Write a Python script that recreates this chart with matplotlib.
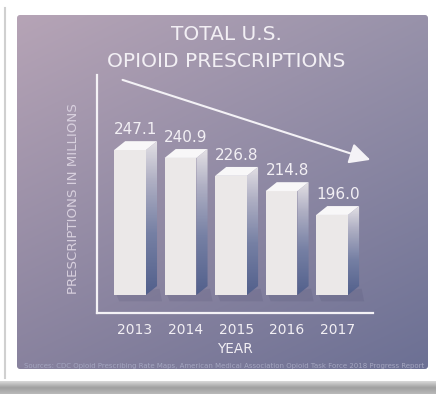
import numpy as np
import matplotlib
matplotlib.use('Agg')
import matplotlib.pyplot as plt
from matplotlib.patches import Polygon, Rectangle, FancyBboxPatch
from matplotlib.colors import LinearSegmentedColormap

# data
years = ['2013', '2014', '2015', '2016', '2017']
rx = [247.1, 240.9, 226.8, 214.8, 196.0]
title = 'TOTAL U.S.\nOPIOID PRESCRIPTIONS'
source = ('Sources: CDC Opioid Prescribing Rate Maps, American Medical '
          'Association Opioid Task Force 2018 Progress Report')

W, H = 436, 394
fig = plt.figure(figsize=(W / 100, H / 100), dpi=100)

# background / frame in pixel coords
bg = fig.add_axes([0, 0, 1, 1])
bg.set_xlim(0, W)
bg.set_ylim(H, 0)
bg.axis('off')
bg.add_patch(Rectangle((0, 0), W, H, color='white', zorder=0))
# bottom shadow band
shade = np.linspace(0, 1, 20).reshape(-1, 1)
bg.imshow(shade, extent=(0, W, 394, 381), aspect='auto', zorder=1,
          cmap=LinearSegmentedColormap.from_list('sh', ['#d8d8d8', '#a0a0a0', '#b8b8b8']))
bg.plot([5, 5], [8, 378], color='#d0d0d0', lw=1.5, zorder=1)

# panel gradient (bilinear between corner colours)
tl = np.array([0xb6, 0xa4, 0xb6]) / 255
tr = np.array([0x98, 0x92, 0xaa]) / 255
bl = np.array([0x88, 0x82, 0x9e]) / 255
br = np.array([0x6c, 0x70, 0x94]) / 255
u = np.linspace(0, 1, 200)[None, :, None]
v = np.linspace(0, 1, 200)[:, None, None]
grad = (1 - v) * ((1 - u) * tl + u * tr) + v * ((1 - u) * bl + u * br)
panel = FancyBboxPatch((17, 15), 411, 354, boxstyle='round,pad=0,rounding_size=3',
                       facecolor='none', edgecolor='none', zorder=2)
bg.add_patch(panel)
im = bg.imshow(grad, extent=(17, 428, 369, 15), aspect='auto', zorder=2)
im.set_clip_path(panel)

txt = '#f2eff4'
bg.text(226, 48, title, ha='center', va='center', color=txt, fontsize=14.5,
        linespacing=1.5, zorder=5)
bg.text(235, 349, 'YEAR', ha='center', va='center', color=txt, fontsize=9.8, zorder=5)
bg.text(224, 366, source, ha='center', va='center', color='#a4a6c0', fontsize=5.0, zorder=5)
bg.text(73, 199, 'PRESCRIPTIONS IN MILLIONS', rotation=90, ha='center', va='center',
        color='#d8d0de', fontsize=9.6, zorder=5)

# main chart axes: spines at x 97..373, y 75..313
ax = fig.add_axes([97 / W, 1 - 313 / H, 276 / W, 238 / H])
ax.patch.set_alpha(0)
base = 133
ax.set_xlim(-0.653, 4.81)
ax.set_ylim(118.8, 306.2)
for s in ['top', 'right']:
    ax.spines[s].set_visible(False)
for s in ['left', 'bottom']:
    ax.spines[s].set_color('#f4f2f6')
    ax.spines[s].set_linewidth(1.6)
ax.set_yticks([])
x = np.arange(len(years))
ax.set_xticks(x + 0.1)
ax.set_xticklabels(years, color=txt, fontsize=10)
ax.tick_params(axis='x', length=0, pad=7)

bw = 0.63
dx, dy = 0.22, 7.0
side = np.linspace(0, 1, 100).reshape(-1, 1)
side_cmap = LinearSegmentedColormap.from_list(
    'sd', [(0, '#e2dfe4'), (0.25, '#b0b0c4'), (0.6, '#7680a4'), (1, '#52608c')])
for i, val in enumerate(rx):
    x0, x1 = i - bw / 2, i + bw / 2
    # shadow
    ax.add_patch(Polygon([(x0 + 0.05, base), (x1 + dx + 0.05, base + dy - 2),
                          (x1 + dx + 0.1, base - 5), (x0 + 0.1, base - 5)],
                         closed=True, facecolor='#3c3c60', alpha=0.12,
                         edgecolor='none', zorder=2))
    # front face
    ax.bar(i, val - base, bottom=base, width=bw, color='#ebe8e8',
           edgecolor='none', zorder=3)
    # side face with vertical gradient
    sp = Polygon([(x1, base), (x1 + dx, base + dy), (x1 + dx, val + dy), (x1, val)],
                 closed=True, facecolor='none', edgecolor='none', zorder=3)
    ax.add_patch(sp)
    g = ax.imshow(side, extent=(x1, x1 + dx, base, val + dy), aspect='auto',
                  cmap=side_cmap, zorder=3, origin='upper')
    g.set_clip_path(sp)
    # top face
    ax.add_patch(Polygon([(x0, val), (x1, val), (x1 + dx, val + dy), (x0 + dx, val + dy)],
                         closed=True, facecolor='#f8f7f8', edgecolor='none', zorder=4))
    ax.text(i + dx / 2, val + dy + 9, f'{val:.1f}', ha='center', va='center',
            color=txt, fontsize=11, zorder=5)

ax.set_aspect('auto')
ax.annotate('', xy=(1.0, 0.64), xytext=(0.083, 0.983), xycoords='axes fraction',
            arrowprops=dict(arrowstyle='-|>,head_length=0.9,head_width=0.45',
                            color='#f4f2f6', lw=1.5, mutation_scale=14))

fig.savefig('out.png', dpi=100)
